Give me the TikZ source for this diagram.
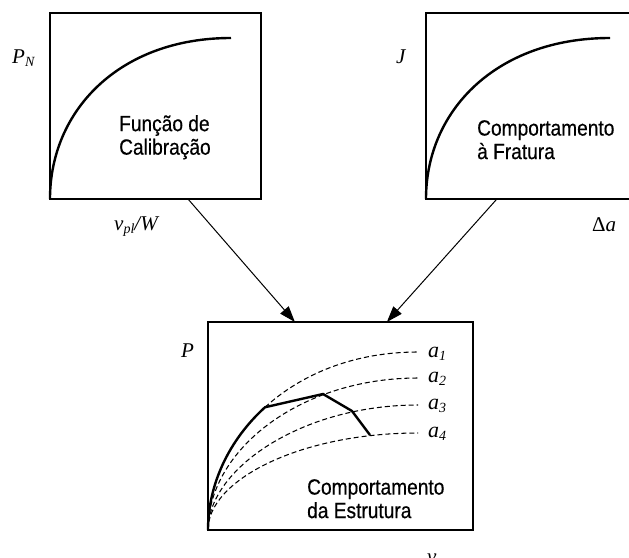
\documentclass[tikz,border=0pt]{standalone}
\usepackage{fontspec}
\setmainfont{Liberation Serif}
\newfontfamily\boxfont[FakeStretch=0.87,FakeBold=0.5]{Liberation Sans}
\usetikzlibrary{arrows.meta,calc}
\newcommand{\sbs}[1]{\raisebox{-0.35ex}{\fontsize{14}{14}\selectfont #1}}
\begin{document}
\begin{tikzpicture}[x=1pt,y=-1pt,
  frame/.style={draw, line width=1.2pt, inner sep=0pt, outer sep=0pt, anchor=north west},
  curve/.style={line width=2.4pt},
  dcurve/.style={line width=1.05pt, dash pattern=on 5pt off 3pt},
  lbl/.style={font=\fontsize{21}{21}\selectfont\itshape, inner sep=0pt, anchor=base west},
  albl/.style={font=\fontsize{22}{22}\selectfont\itshape, inner sep=0pt, anchor=base west},
  txt/.style={font=\boxfont\fontsize{22}{23.5}\selectfont, align=left, inner sep=0pt, anchor=north west},
  arr/.style={line width=1pt, -{Triangle[length=16pt,width=11pt]}}]
\useasboundingbox (0,0) rectangle (629,557);
% frames
\node[frame, minimum width=211pt, minimum height=186pt] (b1) at (50,13) {};
\node[frame, minimum width=211pt, minimum height=186pt] (b2) at (426,13) {};
\node[frame, minimum width=265pt, minimum height=208pt] (b3) at (208,322) {};
% curves
\draw[curve] (b1.south west) .. controls (50,110) and (120,38) .. (231,38);
\draw[curve] (b2.south west) .. controls (426,110) and (497,38) .. (610,38);
\draw[curve] (b3.south west) .. controls (208,485) and (228.5,440.5) .. (265,407.25)
  -- (323,394) -- (352,411) -- (370,435);
\draw[dcurve] (265,407.25) .. controls (301.5,374) and (354,352) .. (418,352);
\draw[dcurve] (b3.south west) .. controls (208,450) and (300,378) .. (418,378);
\draw[dcurve] (b3.south west) .. controls (208,470) and (300,405) .. (418,405);
\draw[dcurve] (b3.south west) .. controls (208,480) and (300,433) .. (418,433);
% texts
\node[txt] (t1) at (119,115) {Função de\\Calibração};
\node[txt] (t2) at (477,120) {Comportamento\\à Fratura};
\node[txt] (t3) at (307,479) {Comportamento\\da Estrutura};
% labels
\node[lbl] (pn) at (12,63) {P\sbs{N}};
\node[lbl] (j) at (396,63) {J};
\node[lbl] (vw) at (114,230) {v\sbs{pl}/W};
\node[lbl] (da) at (592,231) {\upshape Δ\itshape a};
\node[lbl] (p) at (181,357) {P};
\node[albl] (a1) at (428,357) {a\sbs{1}};
\node[albl] (a2) at (428,382) {a\sbs{2}};
\node[albl] (a3) at (428,409) {a\sbs{3}};
\node[albl] (a4) at (428,437) {a\sbs{4}};
\node[lbl] (v) at (427,563) {v};
% arrows
\draw[arr] ($(b1.south west)!0.654!(b1.south east)$) -- ($(b3.north west)!0.328!(b3.north east)$);
\draw[arr] ($(b2.south west)!0.336!(b2.south east)$) -- ($(b3.north west)!0.675!(b3.north east)$);
\end{tikzpicture}
\end{document}
